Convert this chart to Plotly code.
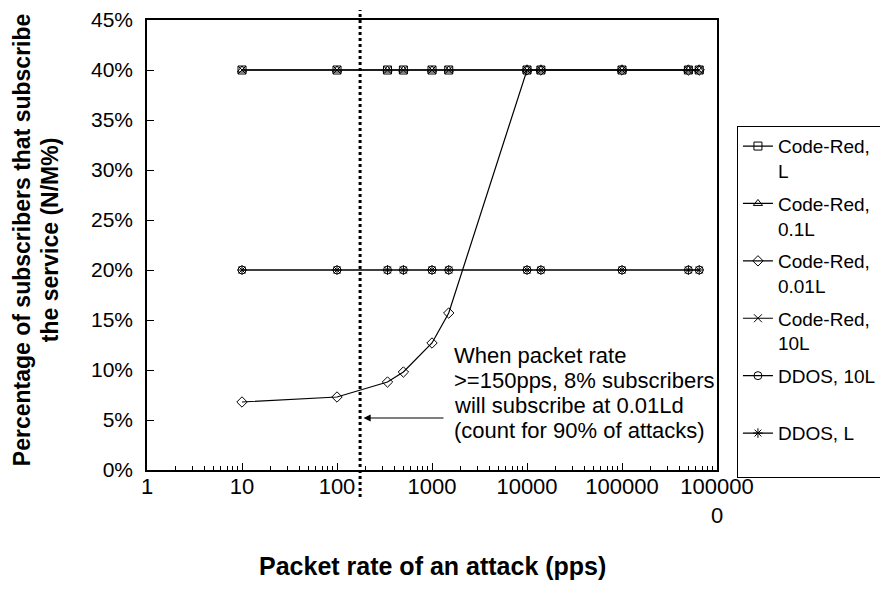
import numpy as np
import plotly.graph_objects as go

# ---- data ----
packet_rate = [10, 100, 340, 500, 1000, 1500, 10000, 14000, 100000, 500000, 650000]

codered_L    = [0.40, 0.40, 0.40, 0.40, 0.40, 0.40, 0.40, 0.40, 0.40, 0.40, 0.40]
codered_01L  = [0.40, 0.40, 0.40, 0.40, 0.40, 0.40, 0.40, 0.40, 0.40, 0.40, 0.40]
codered_001L = [0.068, 0.073, 0.088, 0.098, 0.127, 0.157, 0.40, 0.40, 0.40, 0.40, 0.40]
codered_10L  = [0.40, 0.40, 0.40, 0.40, 0.40, 0.40, 0.40, 0.40, 0.40, 0.40, 0.40]
ddos_10L     = [0.20, 0.20, 0.20, 0.20, 0.20, 0.20, 0.20, 0.20, 0.20, 0.20, 0.20]
ddos_L       = [0.20, 0.20, 0.20, 0.20, 0.20, 0.20, 0.20, 0.20, 0.20, 0.20, 0.20]

series_names = ["Code-Red,<br>L", "Code-Red,<br>0.1L", "Code-Red,<br>0.01L",
                "Code-Red,<br>10L", "DDOS, 10L<br> ", "DDOS, L<br> "]
series_values = [codered_L, codered_01L, codered_001L, codered_10L, ddos_10L, ddos_L]
series_symbols = ["square-open", "triangle-up-open", "diamond-open",
                  "x-thin-open", "circle-open", "asterisk-open"]

x_tickvals = [1, 10, 100, 1000, 10000, 100000, 1000000]
x_ticktext = ["1", "10", "100", "1000", "10000", "100000", "100000<br>0"]

threshold_pps = 175
note_lines = ["When packet rate", ">=150pps, 8% subscribers",
              "will subscribe at 0.01Ld", "(count for 90% of attacks)"]
y_title_lines = ["Percentage of subscribers that subscribe", "the service (N/M%)"]
x_title = "Packet rate of an attack (pps)"

FONT = "Liberation Sans, Arial, sans-serif"

fig = go.Figure()
for name, vals, sym in zip(series_names, series_values, series_symbols):
    fig.add_trace(go.Scatter(
        x=packet_rate, y=vals, name=name, legendgroup=name,
        mode="lines+markers",
        line=dict(color="black", width=1.2),
        marker=dict(symbol=sym, size=8, color="black",
                    line=dict(color="black", width=1)),
    ))

minor_vals = [k * 10 ** d for d in range(0, 6) for k in range(2, 10)]

fig.update_xaxes(
    type="log", range=[0, 6],
    tickmode="array", tickvals=x_tickvals, ticktext=x_ticktext,
    ticks="inside", ticklen=7, tickcolor="black", tickwidth=1,
    showline=True, linecolor="black", linewidth=1.5, mirror=True,
    showgrid=False, zeroline=False,
    tickfont=dict(family=FONT, size=22, color="black"),
    ticklabelstandoff=-4,
    minor=dict(ticks="inside", ticklen=4, tickcolor="black", tickwidth=1,
               tickmode="array", tickvals=minor_vals, showgrid=False),
)
fig.update_yaxes(
    range=[0, 0.45], dtick=0.05, tick0=0, tickformat=".0%",
    ticks="inside", ticklen=7, tickcolor="black", tickwidth=1,
    showline=True, linecolor="black", linewidth=1.5, mirror=True,
    showgrid=False, zeroline=False,
    tickfont=dict(family=FONT, size=21, color="black"),
    ticklabelstandoff=8,
)

# threshold dotted line
fig.add_shape(type="line", xref="x", yref="paper",
              x0=threshold_pps, x1=threshold_pps,
              y0=-0.06, y1=1.022,
              line=dict(color="black", width=3, dash="dot"))

# arrow
fig.add_annotation(x=np.log10(190), y=0.052, xref="x", yref="y",
                   ax=np.log10(1370), ay=0.052, axref="x", ayref="y",
                   text="", showarrow=True, arrowhead=2, arrowsize=1.2,
                   arrowwidth=1.2, arrowcolor="black", standoff=0)
# note (one annotation per line, Excel-like line spacing)
for i, line in enumerate(note_lines):
    fig.add_annotation(x=3.21, y=0.115 - 0.025 * i, xref="x", yref="y",
                       xanchor="left", yanchor="middle", align="left",
                       text=line, showarrow=False,
                       font=dict(family=FONT, size=22, color="black"))
# y title (two lines)
for xp, line in zip([-0.2193, -0.1702], y_title_lines):
    fig.add_annotation(x=xp, y=0.513, xref="paper", yref="paper",
                       xanchor="center", yanchor="middle",
                       textangle=-90, showarrow=False,
                       text="<b>" + line + "</b>",
                       font=dict(family=FONT, size=23, color="black"))
# x title
fig.add_annotation(x=0.5, y=-0.213, xref="paper", yref="paper",
                   xanchor="center", yanchor="middle", showarrow=False,
                   text="<b>" + x_title + "</b>",
                   font=dict(family=FONT, size=25, color="black"))

fig.update_layout(
    width=880, height=598,
    margin=dict(l=147, r=163, t=20, b=128, autoexpand=False),
    paper_bgcolor="white", plot_bgcolor="white",
    showlegend=True,
    legend=dict(x=1.035, y=0.764, xanchor="left", yanchor="top",
                traceorder="grouped", tracegroupgap=5, valign="top",
                bordercolor="black", borderwidth=1, itemwidth=30,
                font=dict(family=FONT, size=19, color="black"),
                bgcolor="white"),
)

fig.write_html("out.html")
